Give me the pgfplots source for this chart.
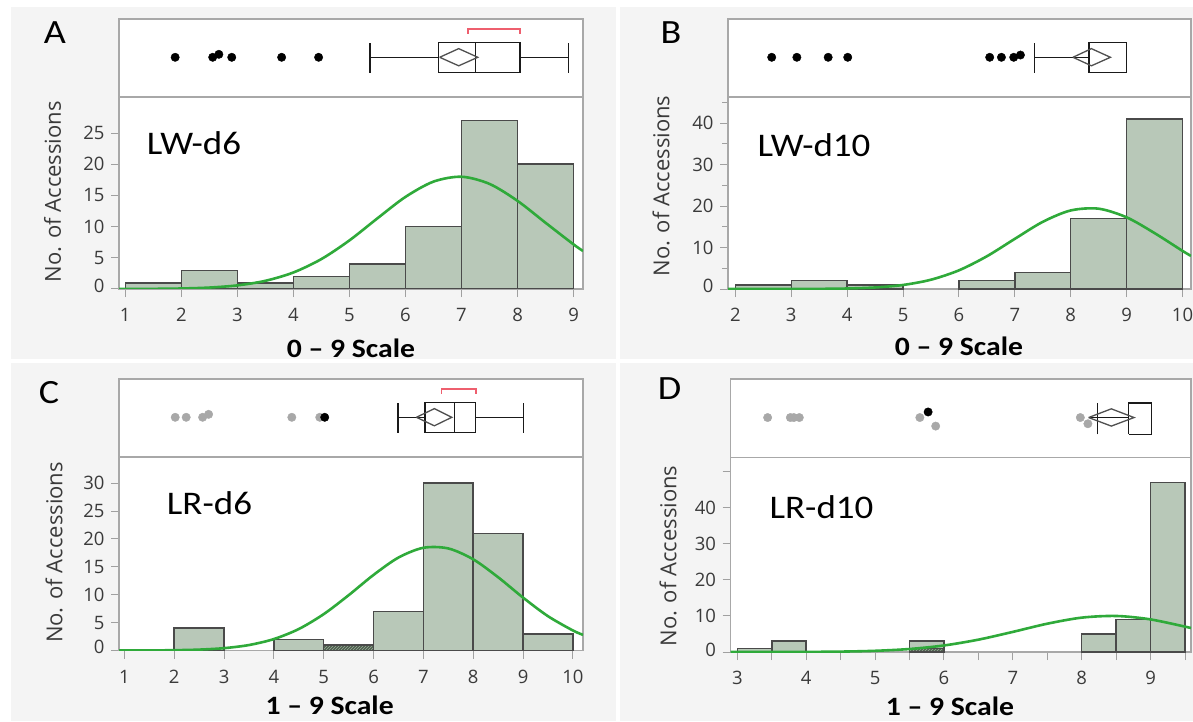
\documentclass[border=0pt]{standalone}
\usepackage{pgfplots}
\pgfplotsset{compat=1.18}
\usepackage{fontspec}
\setmainfont{Carlito}
\newfontfamily\osans{Open Sans}
\usetikzlibrary{patterns}
\definecolor{bgg}{HTML}{F4F4F4}
\definecolor{frameg}{HTML}{A8A8A8}
\definecolor{tickg}{HTML}{A0A0A0}
\definecolor{tickc}{HTML}{3A3A3A}
\definecolor{barf}{HTML}{B8C8B8}
\definecolor{bare}{HTML}{4A4A4A}
\definecolor{curve}{HTML}{2FAA3A}
\definecolor{hatchd}{HTML}{4D5F4D}
\definecolor{hatchl}{HTML}{9AAA9A}
\definecolor{boxl}{HTML}{1A1A1A}
\definecolor{diam}{HTML}{505050}
\definecolor{brk}{HTML}{EE5F6E}
\definecolor{dotg}{HTML}{A8A8A8}
\newcommand\sx[1]{\scalebox{1.12}[1]{#1}}
\pgfplotsset{
  hist/.style={scale only axis, axis line style={draw=frameg, line width=1.3pt},
    tick style={draw=tickg, line width=1pt}, tick align=outside,
    major tick length=8pt, minor tick length=6pt,
    xtick pos=bottom, ytick pos=left, ymin=0, clip=true,
    ticklabel style={font=\osans\fontsize{18.5}{20}\selectfont, text=tickc},
    xticklabel style={yshift=-8pt}, yticklabel style={xshift=-3pt},
    /pgf/number format/assume math mode=true,
    axis background/.style={fill=white}},
  bx/.style={scale only axis, axis line style={draw=frameg, line width=1.3pt},
    ymin=0, ymax=1, xtick=\empty, ytick=\empty, clip=false,
    axis background/.style={fill=white}},
  bars/.style={ybar interval, fill=barf, draw=bare, line width=1.5pt},
  fit/.style={smooth, no marks, draw=curve, line width=2.6pt},
  bline/.style={draw=boxl, line width=1.4pt, no marks, line join=miter},
  dline/.style={draw=diam, line width=1.3pt, no marks, line join=miter},
  rline/.style={draw=brk, line width=1.6pt, no marks},
  bdot/.style={only marks, mark=*, mark size=4.2pt, mark options={fill=black, draw=black}},
  gdot/.style={only marks, mark=*, mark size=4.2pt, mark options={fill=dotg, draw=dotg}},
}
\begin{document}
\begin{tikzpicture}[x=1pt,y=1pt]
\useasboundingbox (0,0) rectangle (1193,721);
\fill[white] (0,0) rectangle (1193,721);
\fill[bgg] (11,362) rectangle (616,714);
\fill[bgg] (620,362) rectangle (1193,714);
\fill[bgg] (11,0) rectangle (616,358);
\fill[bgg] (620,0) rectangle (1193,358);

% ---------------- Panel A ----------------
\begin{axis}[hist, at={(119pt,432pt)}, anchor=south west, width=464pt, height=192pt,
  xmin=0.888, xmax=9.168, ymax=30.77, xtick={1,...,9},
  ytick={0,5,10,15,20,25}, yticklabels={\raisebox{7pt}{0},5,10,15,20,25}]
\addplot[bars] coordinates {(1,1)(2,3)(3,1)(4,2)(5,4)(6,10)(7,27)(8,20)(9,20)};
\addplot[fit] coordinates {(0.888,0.006)(1.5,0.026)(2,0.082)(2.5,0.23)(3,0.58)(3.5,1.31)(4,2.65)(4.5,4.80)(5,7.79)(5.5,11.33)(6,14.76)(6.5,17.21)(7,17.99)(7.5,16.84)(8,14.12)(8.5,10.61)(9,7.14)(9.168,6.09)};
\end{axis}
\begin{axis}[bx, at={(119pt,624pt)}, anchor=south west, width=464pt, height=78pt,
  xmin=0.888, xmax=9.168]
\addplot[bline] coordinates {(5.37,0.509)(6.59,0.509)};
\addplot[bline] coordinates {(8.04,0.509)(8.91,0.509)};
\addplot[bline] coordinates {(5.37,0.312)(5.37,0.696)};
\addplot[bline] coordinates {(8.91,0.312)(8.91,0.696)};
\addplot[bline] coordinates {(6.59,0.312)(8.04,0.312)(8.04,0.696)(6.59,0.696)(6.59,0.312)};
\addplot[bline] coordinates {(7.25,0.312)(7.25,0.696)};
\addplot[dline] coordinates {(6.61,0.509)(6.95,0.62)(7.29,0.509)(6.95,0.40)(6.61,0.509)};
\addplot[rline] coordinates {(7.12,0.81)(7.12,0.868)(8.04,0.868)(8.04,0.81)};
\addplot[bdot] coordinates {(1.89,0.509)(2.56,0.509)(2.67,0.547)(2.90,0.509)(3.79,0.509)(4.45,0.509)};
\end{axis}

% ---------------- Panel B ----------------
\begin{axis}[hist, at={(728pt,432pt)}, anchor=south west, width=463pt, height=192pt,
  xmin=1.868, xmax=10.152, ymax=46.27, xtick={2,...,10},
  ytick={0,10,20,30,40}, yticklabels={\raisebox{6pt}{0},10,20,30,40},
  minor ytick={5,15,25,35,45}]
\addplot[bars] coordinates {(2,1)(3,2)(4,1)(5,1)};
\addplot[bars] coordinates {(6,2)(7,4)(8,17)(9,41)(10,41)};
\addplot[fit] coordinates {(1.868,0)(2.5,0.002)(3,0.009)(3.5,0.036)(4,0.12)(4.5,0.37)(5,0.97)(5.5,2.24)(6,4.50)(6.5,7.89)(7,12.09)(7.5,16.19)(8,18.93)(8.5,19.35)(9,17.27)(9.5,13.47)(10,9.18)(10.152,7.97)};
\end{axis}
\begin{axis}[bx, at={(728pt,624pt)}, anchor=south west, width=463pt, height=78pt,
  xmin=1.868, xmax=10.152]
\addplot[bline] coordinates {(7.35,0.509)(8.33,0.509)};
\addplot[bline] coordinates {(7.35,0.312)(7.35,0.696)};
\addplot[bline] coordinates {(8.33,0.312)(9.0,0.312)(9.0,0.696)(8.33,0.696)(8.33,0.312)};
\addplot[dline] coordinates {(8.04,0.509)(8.37,0.62)(8.71,0.509)(8.37,0.40)(8.04,0.509)};
\addplot[bdot] coordinates {(2.65,0.509)(3.10,0.509)(3.66,0.509)(4.01,0.509)(6.55,0.509)(6.76,0.509)(6.98,0.509)(7.10,0.538)};
\end{axis}

% ---------------- Panel C ----------------
\begin{axis}[hist, at={(119pt,70.5pt)}, anchor=south west, width=464pt, height=193.5pt,
  xmin=0.892, xmax=10.203, ymax=34.68, xtick={1,...,10},
  ytick={0,5,10,15,20,25,30}, yticklabels={\raisebox{7pt}{0},5,10,15,20,25,30}]
\addplot[bars] coordinates {(2,4)(3,4)};
\addplot[bars] coordinates {(4,2)(5,1)(6,7)(7,30)(8,21)(9,3)(10,3)};
\addplot[ybar interval, fill=hatchd, draw=bare, line width=1.4pt,
  postaction={pattern=north east lines, pattern color=hatchl}] coordinates {(5,1)(6,1)};
\addplot[fit] coordinates {(0.892,0.004)(1.5,0.018)(2,0.056)(2.5,0.16)(3,0.42)(3.5,0.98)(4,2.05)(4.5,3.85)(5,6.52)(5.5,9.91)(6,13.55)(6.5,16.66)(7,18.41)(7.5,18.29)(8,16.34)(8.5,13.13)(9,9.48)(9.5,6.15)(10,3.59)(10.203,2.81)};
\end{axis}
\begin{axis}[bx, at={(119pt,264pt)}, anchor=south west, width=464pt, height=78pt,
  xmin=0.892, xmax=10.203]
\addplot[bline] coordinates {(6.49,0.509)(7.03,0.509)};
\addplot[bline] coordinates {(8.05,0.509)(9.01,0.509)};
\addplot[bline] coordinates {(6.49,0.312)(6.49,0.696)};
\addplot[bline] coordinates {(9.01,0.312)(9.01,0.696)};
\addplot[bline] coordinates {(7.03,0.312)(8.05,0.312)(8.05,0.696)(7.03,0.696)(7.03,0.312)};
\addplot[bline] coordinates {(7.63,0.312)(7.63,0.696)};
\addplot[dline] coordinates {(6.86,0.509)(7.22,0.62)(7.57,0.509)(7.22,0.40)(6.86,0.509)};
\addplot[rline] coordinates {(7.36,0.81)(7.36,0.868)(8.05,0.868)(8.05,0.81)};
\addplot[gdot] coordinates {(2.02,0.509)(2.24,0.509)(2.57,0.509)(2.69,0.547)(4.36,0.509)(4.92,0.509)};
\addplot[bdot] coordinates {(5.02,0.509)};
\end{axis}

% ---------------- Panel D ----------------
\begin{axis}[hist, at={(730.5pt,69pt)}, anchor=south west, width=460.5pt, height=194.5pt,
  xmin=2.901, xmax=9.587, ymax=53.88, xtick={3,...,9},
  minor xtick={3.5,4.5,5.5,6.5,7.5,8.5,9.5}, minor tick length=8pt,
  ytick={0,10,20,30,40,50}, yticklabels={\raisebox{5pt}{0},10,20,30,40,{}}]
\addplot[bars] coordinates {(3,1)(3.5,3)(4,3)};
\addplot[bars] coordinates {(5.5,3)(6,3)};
\addplot[bars] coordinates {(8,5)(8.5,9)(9,47)(9.5,47)};
\addplot[ybar interval, fill=hatchd, draw=bare, line width=1.2pt,
  postaction={pattern=north east lines, pattern color=hatchl}] coordinates {(5.5,1)(6,1)};
\addplot[fit] coordinates {(2.901,0.001)(3.5,0.008)(4,0.033)(4.5,0.11)(5,0.33)(5.5,0.83)(6,1.81)(6.5,3.42)(7,5.57)(7.5,7.84)(8,9.52)(8.5,9.98)(9,9.03)(9.587,6.65)};
\end{axis}
\begin{axis}[bx, at={(730.5pt,263.5pt)}, anchor=south west, width=460.5pt, height=78.5pt,
  xmin=2.901, xmax=9.587]
\addplot[bline] coordinates {(8.10,0.509)(8.68,0.509)};
\addplot[bline] coordinates {(8.23,0.295)(8.23,0.696)};
\addplot[bline] coordinates {(8.68,0.295)(9.01,0.295)(9.01,0.696)(8.68,0.696)(8.68,0.295)};
\addplot[dline] coordinates {(8.10,0.509)(8.43,0.62)(8.76,0.509)(8.43,0.40)(8.10,0.509)};
\addplot[gdot] coordinates {(3.44,0.509)(3.77,0.509)(3.82,0.509)(3.90,0.509)(5.65,0.509)(5.88,0.40)(7.98,0.509)(8.09,0.43)};
\addplot[bdot] coordinates {(5.77,0.58)};
\end{axis}

% ---------------- Texts ----------------
\begin{scope}[every node/.style={inner sep=0pt}]
\node[font=\fontsize{34}{34}\selectfont] at (55,688.5) {\sx{A}};
\node[font=\fontsize{34}{34}\selectfont] at (671,688.5) {\sx{B}};
\node[font=\fontsize{34}{34}\selectfont] at (49,328) {\sx{C}};
\node[font=\fontsize{34}{34}\selectfont] at (669.6,332.5) {\sx{D}};
\node[font=\fontsize{33}{33}\selectfont] at (194,578.3) {\sx{LW-d6}};
\node[font=\fontsize{33}{33}\selectfont] at (814,576) {\sx{LW-d10}};
\node[font=\fontsize{33}{33}\selectfont] at (209.5,218) {\sx{LR-d6}};
\node[font=\fontsize{33}{33}\selectfont] at (821.5,214.3) {\sx{LR-d10}};
\node[font=\bfseries\fontsize{26.5}{26.5}\selectfont] at (351,373) {\sx{0 -- 9 Scale}};
\node[font=\bfseries\fontsize{26.5}{26.5}\selectfont] at (959,374.3) {\sx{0 -- 9 Scale}};
\node[font=\bfseries\fontsize{26.5}{26.5}\selectfont] at (329.6,16) {\sx{1 -- 9 Scale}};
\node[font=\bfseries\fontsize{26.5}{26.5}\selectfont] at (950,15) {\sx{1 -- 9 Scale}};
\node[rotate=90, font=\osans\fontsize{22}{22}\selectfont, text=tickc] at (52.6,529.3) {No. of Accessions};
\node[rotate=90, font=\osans\fontsize{22}{22}\selectfont, text=tickc] at (661,535) {No. of Accessions};
\node[rotate=90, font=\osans\fontsize{22}{22}\selectfont, text=tickc] at (54,168.5) {No. of Accessions};
\node[rotate=90, font=\osans\fontsize{22}{22}\selectfont, text=tickc] at (668,165) {No. of Accessions};
\end{scope}
\end{tikzpicture}
\end{document}
